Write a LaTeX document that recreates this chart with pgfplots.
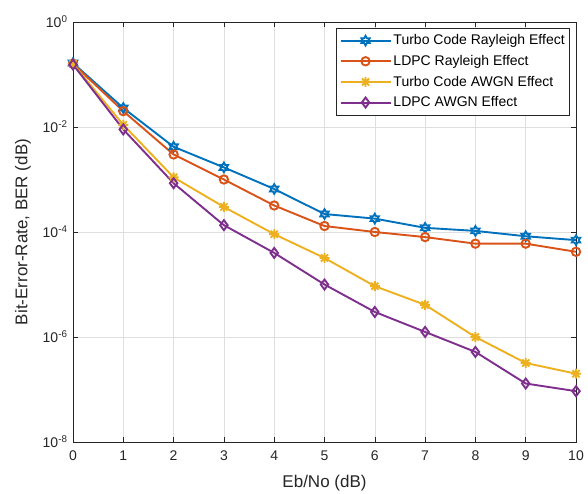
\documentclass[border=0pt]{standalone}
\usepackage{pgfplots}
\pgfplotsset{compat=1.18}
\usepackage{fontspec}
\setmainfont{Liberation Sans}
\definecolor{mblue}{rgb}{0,0.447,0.741}
\definecolor{morange}{rgb}{0.85,0.325,0.098}
\definecolor{myellow}{rgb}{0.929,0.694,0.125}
\definecolor{mpurple}{rgb}{0.494,0.184,0.556}
\definecolor{axgray}{rgb}{0.15,0.15,0.15}
\pgfdeclareplotmark{hexagram}{%
  \pgfpathmoveto{\pgfpointpolar{90}{\pgfplotmarksize}}%
  \pgfpathlineto{\pgfpointpolar{120}{0.577\pgfplotmarksize}}%
  \pgfpathlineto{\pgfpointpolar{150}{\pgfplotmarksize}}%
  \pgfpathlineto{\pgfpointpolar{180}{0.577\pgfplotmarksize}}%
  \pgfpathlineto{\pgfpointpolar{210}{\pgfplotmarksize}}%
  \pgfpathlineto{\pgfpointpolar{240}{0.577\pgfplotmarksize}}%
  \pgfpathlineto{\pgfpointpolar{270}{\pgfplotmarksize}}%
  \pgfpathlineto{\pgfpointpolar{300}{0.577\pgfplotmarksize}}%
  \pgfpathlineto{\pgfpointpolar{330}{\pgfplotmarksize}}%
  \pgfpathlineto{\pgfpointpolar{0}{0.577\pgfplotmarksize}}%
  \pgfpathlineto{\pgfpointpolar{30}{\pgfplotmarksize}}%
  \pgfpathlineto{\pgfpointpolar{60}{0.577\pgfplotmarksize}}%
  \pgfpathclose\pgfusepathqstroke}
\pgfdeclareplotmark{mlstar}{%
  \pgfpathmoveto{\pgfpointpolar{0}{\pgfplotmarksize}}\pgfpathlineto{\pgfpointpolar{180}{\pgfplotmarksize}}%
  \pgfpathmoveto{\pgfpointpolar{45}{\pgfplotmarksize}}\pgfpathlineto{\pgfpointpolar{225}{\pgfplotmarksize}}%
  \pgfpathmoveto{\pgfpointpolar{90}{\pgfplotmarksize}}\pgfpathlineto{\pgfpointpolar{270}{\pgfplotmarksize}}%
  \pgfpathmoveto{\pgfpointpolar{135}{\pgfplotmarksize}}\pgfpathlineto{\pgfpointpolar{315}{\pgfplotmarksize}}%
  \pgfusepathqstroke}
\begin{document}
\begin{tikzpicture}
\useasboundingbox (-73pt,-51pt) rectangle (515pt,442pt);
\begin{axis}[
  at={(0pt,0pt)}, anchor=south west,
  scale only axis, width=503pt, height=420pt,
  xmin=0, xmax=10, ymin=1e-8, ymax=1,
  ymode=log, log basis y=10,
  xtick={0,1,...,10},
  ytick={1e-8,1e-6,1e-4,1e-2,1},
  yticklabels={10\textsuperscript{-8},10\textsuperscript{-6},10\textsuperscript{-4},10\textsuperscript{-2},10\textsuperscript{0}},
  yminorticks=false,
  /pgf/number format/assume math mode=true,
  tick align=inside, xtick pos=both, ytick pos=both,
  major tick length=5pt,
  tick style={axgray, line width=0.6pt},
  axis line style={axgray, line width=0.6pt},
  grid=major,
  major grid style={gray!25, line width=0.6pt},
  ticklabel style={font=\fontsize{14}{16}\selectfont, text=axgray},
  xticklabel style={yshift=-5pt},
  yticklabel style={xshift=-2pt},
  xlabel={Eb/No (dB)}, ylabel={Bit-Error-Rate, BER (dB)},
  label style={font=\fontsize{17}{19}\selectfont, text=axgray},
  xlabel style={yshift=-8pt},
  ylabel style={yshift=5pt},
  legend style={at={(rel axis cs:1,1)}, xshift=-6pt, yshift=-6pt, anchor=north east,
    font=\fontsize{14}{16}\selectfont, draw=axgray, line width=0.6pt,
    inner xsep=3pt, inner ysep=4.5pt, row sep=5pt, cells={anchor=west}},
  legend image code/.code={\draw[#1] (0pt,0pt) -- (50pt,0pt); \draw[#1, mark repeat=1] plot coordinates {(25pt,0pt)};},
  every axis plot/.append style={line width=1.9pt, mark options={solid, fill=none}},
]
\addplot[mblue, mark=hexagram, mark size=4.8pt] coordinates {
(0,0.165) (1,0.023) (2,0.0042) (3,0.0017) (4,0.00066) (5,0.00022) (6,0.00018) (7,0.00012) (8,0.000105) (9,0.000083) (10,0.00007)};
\addlegendentry{Turbo Code Rayleigh Effect}
\addplot[morange, mark=o, mark size=4.2pt] coordinates {
(0,0.16) (1,0.02) (2,0.003) (3,0.001) (4,0.00032) (5,0.00013) (6,0.0001) (7,0.00008) (8,0.00006) (9,0.00006) (10,0.000042)};
\addlegendentry{LDPC Rayleigh Effect}
\addplot[myellow, mark=mlstar, mark size=5pt] coordinates {
(0,0.16) (1,0.011) (2,0.0011) (3,0.0003) (4,0.000091) (5,0.000032) (6,0.0000093) (7,0.0000041) (8,0.000001) (9,0.00000032) (10,0.0000002)};
\addlegendentry{Turbo Code AWGN Effect}
\addplot[mpurple, mark=diamond, mark size=5pt] coordinates {
(0,0.155) (1,0.009) (2,0.00085) (3,0.000135) (4,0.00004) (5,0.00001) (6,0.000003) (7,0.00000125) (8,0.00000052) (9,0.00000013) (10,0.000000093)};
\addlegendentry{LDPC AWGN Effect}
\end{axis}
\end{tikzpicture}
\end{document}
